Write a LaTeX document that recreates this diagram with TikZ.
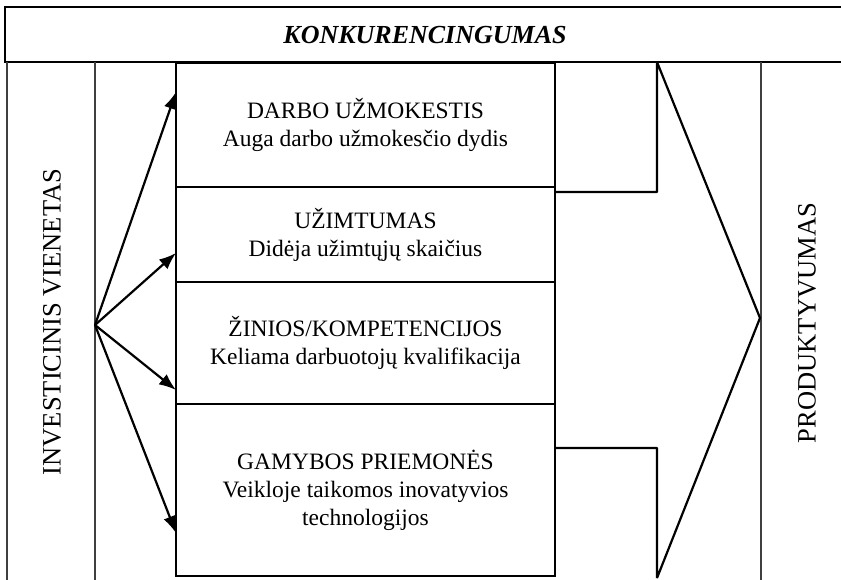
\documentclass[tikz,border=0pt]{standalone}
\usepackage{fontspec}
\setmainfont{Liberation Serif}
\usetikzlibrary{arrows.meta}

\begin{document}
\begin{tikzpicture}[x=1pt, y=-1pt]
\tikzstyle{blokas}=[draw, line width=2.2pt, minimum width=379pt, inner sep=0pt, align=center, font=\fontsize{23.5}{28}\selectfont]
\tikzstyle{stulpas}=[rotate=90, font=\fontsize{26.5}{30}\selectfont]
\tikzstyle{connect}=[-{Latex[length=17pt,width=13pt]}, line width=2.2pt]
\tikzstyle{skyr}=[draw=black!75, line width=2.6pt]
\useasboundingbox (0,0) rectangle (841,580);
% virsutine juosta
\draw[line width=2.2pt] (850,7) -- (5,7) -- (5,62) -- (850,62);
\node[font=\fontsize{26}{30}\selectfont\bfseries\itshape] (konk) at (425,35) {KONKURENCINGUMAS};
% stulpeliai
\draw[skyr] (7,62) -- (7,585);
\draw[skyr] (95,62) -- (95,585);
\draw[skyr] (761,62) -- (761,585);
\node[stulpas] (inv) at (52,322) {INVESTICINIS VIENETAS};
\node[stulpas] (prod) at (807,323) {PRODUKTYVUMAS};
% rodykle
\draw[line width=2.2pt, line join=bevel] (555,192) -- (657,192) -- (657,62) -- (760,318) -- (657,578) -- (657,448) -- (555,448);
% blokai
\node[blokas, minimum height=124pt] (b1) at (365.5,125) {DARBO UŽMOKESTIS\\Auga darbo užmokesčio dydis};
\node[blokas, minimum height=95pt] (b2) at (365.5,234.5) {UŽIMTUMAS\\Didėja užimtųjų skaičius};
\node[blokas, minimum height=122pt] (b3) at (365.5,343) {ŽINIOS/KOMPETENCIJOS\\Keliama darbuotojų kvalifikacija};
\node[blokas, minimum height=172pt] (b4) at (365.5,490) {GAMYBOS PRIEMONĖS\\Veikloje taikomos inovatyvios\\technologijos};
\coordinate (src) at (95,325);
\coordinate (t1) at (176,92);
\coordinate (t2) at (176,253);
\coordinate (t3) at (176,390);
\coordinate (t4) at (176,533);
\path (src) edge [connect] (t1);
\path (src) edge [connect] (t2);
\path (src) edge [connect] (t3);
\path (src) edge [connect] (t4);
\end{tikzpicture}
\end{document}
